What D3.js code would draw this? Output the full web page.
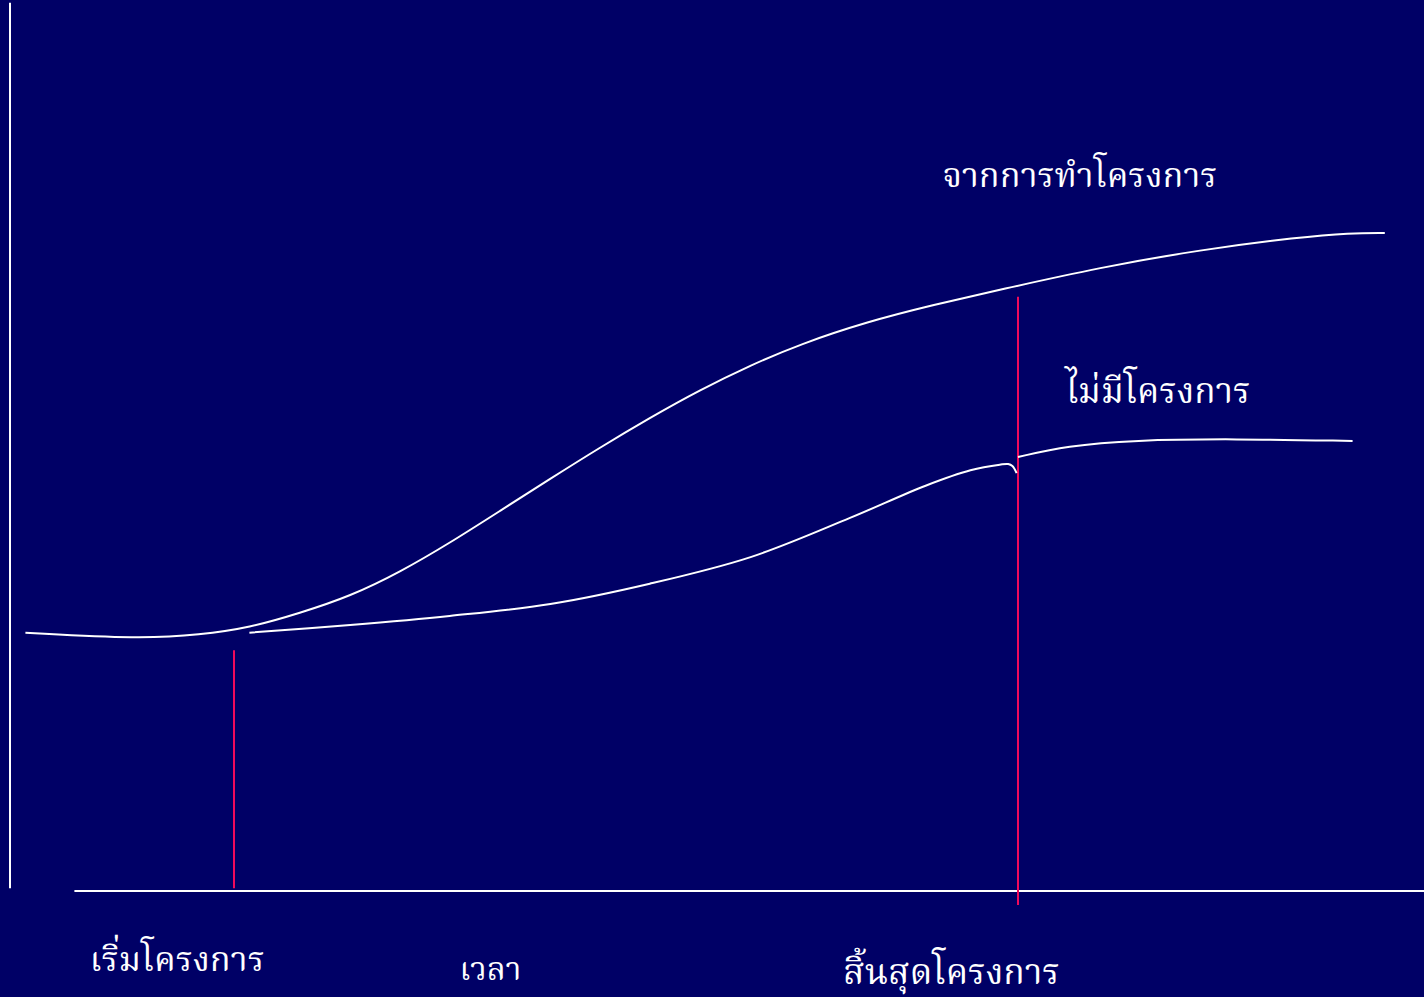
<!DOCTYPE html>
<html>
<head>
<meta charset="utf-8">
<script src="https://cdn.jsdelivr.net/npm/d3@7/dist/d3.min.js"></script>
<style>
  html, body { margin: 0; padding: 0; background: #000066; overflow: hidden; }
  svg { display: block; }
</style>
</head>
<body>
<script>
// Time runs 0–100 along x; outcome level 0–100 on y.
const withProjectT = [1.1, 9.3, 13.6, 17.1, 20.7, 24.3, 27.9, 31.4, 35.0, 38.6, 42.1, 45.7, 49.3, 52.9, 56.4, 61.2, 65.9, 70.7, 77.9, 85.0, 92.1, 95.7, 98.2];
const withProjectV = [36.9, 36.0, 36.6, 37.6, 39.7, 42.1, 45.6, 49.7, 54.3, 58.9, 63.3, 67.6, 71.6, 75.1, 78.1, 81.3, 83.7, 85.9, 89.1, 91.6, 93.4, 94.0, 94.0];

const withoutBeforeT = [17.1, 24.3, 31.4, 38.6, 45.7, 52.9, 60.0, 65.4, 68.6, 70.7, 71.3, 71.6, 71.9];
const withoutBeforeV = [36.9, 38.0, 39.3, 41.0, 43.9, 47.7, 53.3, 57.9, 60.1, 60.9, 61.0, 60.7, 59.7];

const withoutAfterT = [72.0, 75.5, 80.2, 87.4, 95.9];
const withoutAfterV = [62.0, 63.6, 64.4, 64.6, 64.3];

// Project start / end markers: time and vertical extent
const markerT = [16.0, 72.0];
const markerTop = [34.4, 84.9];
const markerBottom = [0.4, -2.0];

const labels = ["จากการทำโครงการ", "ไม่มีโครงการ", "เริ่มโครงการ", "เวลา", "สิ้นสุดโครงการ"];

const W = 1424, H = 997;
const x = d3.scaleLinear().domain([0, 100]).range([10, 1410]);
const y = d3.scaleLinear().domain([0, 100]).range([891, 191]);

const svg = d3.select("body").append("svg").attr("width", W).attr("height", H);
svg.append("rect").attr("width", W).attr("height", H).attr("fill", "#000066");

// axes: plain white lines, no ticks
svg.append("line")
  .attr("x1", x(0)).attr("x2", x(0))
  .attr("y1", y(126.9)).attr("y2", y(0.4))
  .attr("stroke", "#fff").attr("stroke-width", 2);
svg.append("line")
  .attr("x1", x(4.6)).attr("x2", W)
  .attr("y1", y(0)).attr("y2", y(0))
  .attr("stroke", "#fff").attr("stroke-width", 2);

// start / end markers
svg.selectAll("line.marker")
  .data(markerT)
  .join("line")
  .attr("class", "marker")
  .attr("x1", d => x(d)).attr("x2", d => x(d))
  .attr("y1", (d, i) => y(markerTop[i]))
  .attr("y2", (d, i) => y(markerBottom[i]))
  .attr("stroke", "#f00a5c").attr("stroke-width", 2);

const smooth = d3.line()
  .x(d => x(d[0])).y(d => y(d[1]))
  .curve(d3.curveBasis);
const tight = d3.line()
  .x(d => x(d[0])).y(d => y(d[1]))
  .curve(d3.curveCatmullRom.alpha(0.5));

const series = [
  { pts: d3.zip(withProjectT, withProjectV), gen: smooth },
  { pts: d3.zip(withoutBeforeT, withoutBeforeV), gen: tight },
  { pts: d3.zip(withoutAfterT, withoutAfterV), gen: smooth }
];

svg.selectAll("path.curve")
  .data(series)
  .join("path")
  .attr("class", "curve")
  .attr("d", d => d.gen(d.pts))
  .attr("fill", "none")
  .attr("stroke", "#fff")
  .attr("stroke-width", 2);

// text labels: [left x (time), baseline y (level), width in px]
const labelPos = [
  [66.6, 100.6, 275],
  [75.4, 69.7, 185],
  [5.7, -11.4, 175],
  [32.1, -12.7, 62],
  [59.5, -13.3, 217]
];
const font = "'Noto Serif Thai', 'Noto Sans Thai', 'TH Sarabun New', 'Loma', 'Norasi', 'Garuda', serif";
svg.selectAll("text.lbl")
  .data(labels)
  .join("text")
  .attr("class", "lbl")
  .attr("x", (d, i) => x(labelPos[i][0]))
  .attr("y", (d, i) => y(labelPos[i][1]))
  .attr("fill", "#fff")
  .attr("font-family", font)
  .attr("font-size", 38)
  .text(d => d)
  .each(function(d, i) {
    const w = this.getComputedTextLength();
    if (w > 0) {
      const fs = 38 * labelPos[i][2] / w;
      d3.select(this).attr("font-size", Math.min(60, Math.max(20, fs)));
    }
  });
</script>
</body>
</html>
